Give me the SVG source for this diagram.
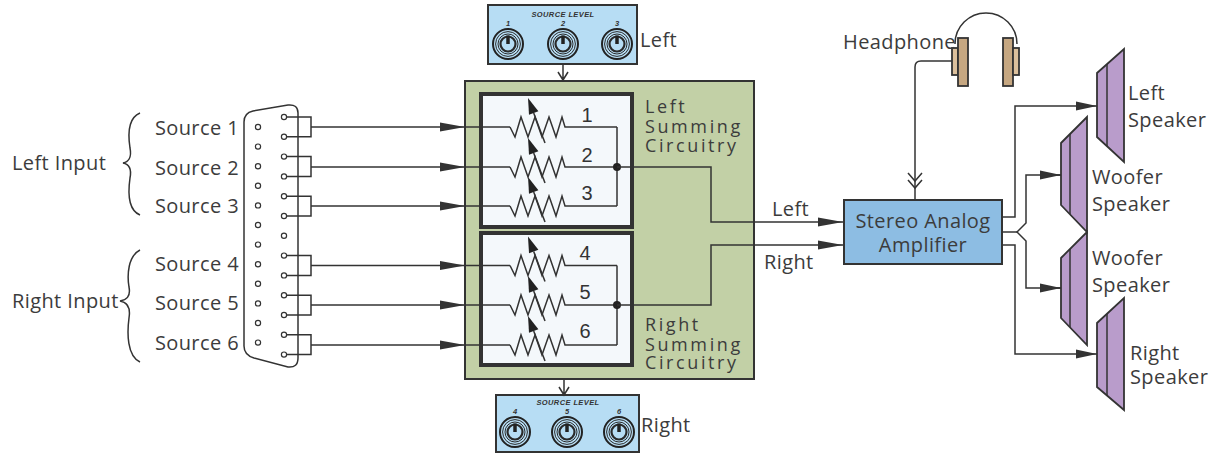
<svg xmlns="http://www.w3.org/2000/svg" width="1217" height="454" viewBox="0 0 1217 454">
<style>
.t{font-family:"Open Sans","Noto Sans",sans-serif;fill:#3c3c3c;font-size:20px;letter-spacing:0.4px}
.sm{font-size:18px;letter-spacing:2.6px}
.num{font-family:"Liberation Sans",Arial,sans-serif;fill:#333;font-size:20px;text-anchor:middle}
.sl{font-family:"Liberation Sans",Arial,sans-serif;font-style:italic;font-weight:bold;fill:#333;font-size:7.5px;text-anchor:middle}
.ln{fill:none;stroke:#333;stroke-width:1.5}
.pin{fill:#fff;stroke:#333;stroke-width:1.2}
.spk{fill:#b99ccb;stroke:#333;stroke-width:1.8;stroke-linejoin:miter}
.cup{fill:#c6a781;stroke:#333;stroke-width:1.8}
.pad{fill:#dcc09c;stroke:#333;stroke-width:1.8}
.panel{fill:#b7ddf4;stroke:#333;stroke-width:2}
.ring{fill:none;stroke:#2a2a2a}
</style>
<defs>
<marker id="ah" markerUnits="userSpaceOnUse" markerWidth="26" markerHeight="12" refX="25" refY="5" orient="auto" viewBox="0 0 26 10">
<path d="M0,0.5 L25,5 L0,9.5 Z" fill="#333"/>
</marker>
<marker id="ahs" markerUnits="userSpaceOnUse" markerWidth="22" markerHeight="12" refX="21" refY="5" orient="auto" viewBox="0 0 22 10">
<path d="M0,0.5 L21,5 L0,9.5 Z" fill="#333"/>
</marker>
<g id="res">
<path class="ln" d="M0,0 L5,10 L11,-10 L18,10 L25,-10 L32,10 L39,-10 L46,10 L52,-10 L55,0 L107,0"/>
<path class="ln" d="M35,16 L23.7,-14"/>
<path d="M18,-29 L28.4,-15.8 L19,-12.2 Z" fill="#222"/>
</g>
<g id="knob">
<circle r="15" fill="#b7ddf4" stroke="#222" stroke-width="2"/>
<circle r="12.4" class="ring" stroke-width="1"/>
<circle r="10" class="ring" stroke-width="1"/>
<circle r="7.5" class="ring" stroke-width="2.2"/>
<line x1="0" y1="0" x2="0" y2="-8.5" stroke="#222" stroke-width="3.5"/>
</g>
</defs>
<rect width="1217" height="454" fill="#fff"/>

<g id="input-labels">
<text class="t" x="12" y="170">Left Input</text>
<text class="t" x="12" y="308">Right Input</text>
<path class="ln" d="M140,113 C128,118 128,135 130,148 C132,158 128,162 123,163 C128,164 132,168 130,178 C128,192 128,210 140,215"/>
<path class="ln" d="M140,250 C128,256 127,275 129,287 C131,297 126,300 120,301 C126,302 131,306 129,318 C127,333 127,356 140,362"/>
<text class="t" x="239" y="135" text-anchor="end">Source 1</text>
<text class="t" x="239" y="175" text-anchor="end">Source 2</text>
<text class="t" x="239" y="213" text-anchor="end">Source 3</text>
<text class="t" x="239" y="271" text-anchor="end">Source 4</text>
<text class="t" x="239" y="310" text-anchor="end">Source 5</text>
<text class="t" x="239" y="350" text-anchor="end">Source 6</text>
</g>

<g id="connector">
<path class="ln" d="M244,122 Q244,113 253,111 L288,105 Q298,104 298,113 L298,358 Q298,368 288,367 L254,358 Q244,355 244,346 Z"/>
<g>
<circle class="pin" cx="258" cy="127" r="2.6"/><circle class="pin" cx="258" cy="146.6" r="2.6"/>
<circle class="pin" cx="258" cy="166.2" r="2.6"/><circle class="pin" cx="258" cy="185.8" r="2.6"/>
<circle class="pin" cx="258" cy="205.4" r="2.6"/><circle class="pin" cx="258" cy="225" r="2.6"/>
<circle class="pin" cx="258" cy="244.6" r="2.6"/><circle class="pin" cx="258" cy="264.2" r="2.6"/>
<circle class="pin" cx="258" cy="283.8" r="2.6"/><circle class="pin" cx="258" cy="303.4" r="2.6"/>
<circle class="pin" cx="258" cy="323" r="2.6"/><circle class="pin" cx="258" cy="342.6" r="2.6"/>
<circle class="pin" cx="284" cy="117" r="2.6"/><circle class="pin" cx="284" cy="136.8" r="2.6"/>
<circle class="pin" cx="284" cy="156.6" r="2.6"/><circle class="pin" cx="284" cy="176.4" r="2.6"/>
<circle class="pin" cx="284" cy="196.2" r="2.6"/><circle class="pin" cx="284" cy="216" r="2.6"/>
<circle class="pin" cx="284" cy="235.8" r="2.6"/><circle class="pin" cx="284" cy="255.6" r="2.6"/>
<circle class="pin" cx="284" cy="275.4" r="2.6"/><circle class="pin" cx="284" cy="295.2" r="2.6"/>
<circle class="pin" cx="284" cy="315" r="2.6"/><circle class="pin" cx="284" cy="334.8" r="2.6"/>
<circle class="pin" cx="284" cy="354.6" r="2.6"/>
</g>
</g>

<g id="summing-block">
<rect x="465" y="81" width="289" height="298" fill="#c2d0a6" stroke="#333" stroke-width="2"/>
</g>

<g id="left-summing">
<rect x="481" y="94" width="151" height="133" fill="#f4f8fb" stroke="#333" stroke-width="4"/>
<use href="#res" x="510" y="127"/>
<use href="#res" x="510" y="167"/>
<use href="#res" x="510" y="206"/>
<path class="ln" d="M617,127 V206"/>
<circle cx="617" cy="167" r="4" fill="#222"/>
<text class="num" x="587" y="122">1</text>
<text class="num" x="587" y="162">2</text>
<text class="num" x="587" y="200">3</text>
<text class="t sm" x="645" y="113">Left</text>
<text class="t sm" x="645" y="133">Summing</text>
<text class="t sm" x="645" y="152">Circuitry</text>
</g>

<g id="right-summing">
<rect x="481" y="233" width="151" height="132" fill="#f4f8fb" stroke="#333" stroke-width="4"/>
<use href="#res" x="510" y="265.5"/>
<use href="#res" x="510" y="305"/>
<use href="#res" x="510" y="345"/>
<path class="ln" d="M617,265.5 V345"/>
<circle cx="617" cy="305" r="4" fill="#222"/>
<text class="num" x="585" y="260">4</text>
<text class="num" x="585" y="299">5</text>
<text class="num" x="585" y="338">6</text>
<text class="t sm" x="645" y="331">Right</text>
<text class="t sm" x="645" y="351">Summing</text>
<text class="t sm" x="645" y="369">Circuitry</text>
</g>

<g id="left-level-panel">
<rect class="panel" x="488" y="5" width="149" height="59"/>
<text class="sl" x="563" y="17" letter-spacing="0.4">SOURCE  LEVEL</text>
<text class="sl" x="508" y="26">1</text>
<text class="sl" x="563" y="26">2</text>
<text class="sl" x="617" y="26">3</text>
<use href="#knob" x="508" y="44"/>
<use href="#knob" x="563" y="44"/>
<use href="#knob" x="617" y="44"/>
<text class="t" x="640" y="47">Left</text>
</g>

<g id="right-level-panel">
<rect class="panel" x="496" y="395" width="143" height="57"/>
<text class="sl" x="568" y="405" letter-spacing="0.4">SOURCE  LEVEL</text>
<text class="sl" x="515" y="414">4</text>
<text class="sl" x="567" y="414">5</text>
<text class="sl" x="619" y="414">6</text>
<use href="#knob" x="515" y="432"/>
<use href="#knob" x="567" y="432"/>
<use href="#knob" x="619" y="432"/>
<text class="t" x="641" y="432">Right</text>
</g>

<g id="amplifier">
<rect x="844" y="200" width="158" height="64" fill="#8dbde3" stroke="#333" stroke-width="2"/>
<text class="t" x="923" y="228" font-size="22" letter-spacing="1.3" text-anchor="middle" fill="#333">Stereo Analog</text>
<text class="t" x="923" y="252" font-size="22" letter-spacing="1.3" text-anchor="middle" fill="#333">Amplifier</text>
</g>

<g id="headphone">
<path class="ln" d="M955,44 A31,31 0 0 1 1017,44"/>
<rect class="pad" x="952" y="48" width="6" height="27"/>
<rect class="cup" x="958" y="38" width="10" height="48"/>
<rect class="cup" x="1003" y="38" width="10" height="48"/>
<rect class="pad" x="1013" y="48" width="6" height="27"/>
<text class="t" x="843" y="49" font-size="21">Headphone</text>
</g>

<g id="left-speaker">
<polygon class="spk" points="1097,73 1124,49 1124,162 1097,137"/>
<line class="ln" x1="1107" y1="64" x2="1107" y2="146" stroke-width="1.8"/>
<text class="t" x="1128" y="100">Left</text>
<text class="t" x="1128" y="127">Speaker</text>
</g>
<g id="woofer-speaker-1">
<polygon class="spk" points="1061,143 1087,117 1087,232 1061,205"/>
<line class="ln" x1="1070" y1="134" x2="1070" y2="214" stroke-width="1.8"/>
<text class="t" x="1092" y="184">Woofer</text>
<text class="t" x="1092" y="211">Speaker</text>
</g>
<g id="woofer-speaker-2">
<polygon class="spk" points="1061,258 1087,232 1087,345 1061,318"/>
<line class="ln" x1="1070" y1="249" x2="1070" y2="327" stroke-width="1.8"/>
<text class="t" x="1092" y="265">Woofer</text>
<text class="t" x="1092" y="292">Speaker</text>
</g>
<g id="right-speaker">
<polygon class="spk" points="1097,323 1124,298 1124,410 1097,387"/>
<line class="ln" x1="1107" y1="314" x2="1107" y2="396" stroke-width="1.8"/>
<text class="t" x="1130" y="360">Right</text>
<text class="t" x="1130" y="384">Speaker</text>
</g>

<g id="connectors">
<path class="ln" d="M286.6,117 H311 V136.8 H286.6"/>
<path class="ln" d="M286.6,156.6 H311 V176.4 H286.6"/>
<path class="ln" d="M286.6,196.2 H311 V216 H286.6"/>
<path class="ln" d="M286.6,255.6 H311 V275.4 H286.6"/>
<path class="ln" d="M286.6,295.2 H311 V315 H286.6"/>
<path class="ln" d="M286.6,334.8 H311 V354.6 H286.6"/>
<path class="ln" d="M311,127 H465" marker-end="url(#ah)"/><path class="ln" d="M465,127 H510"/>
<path class="ln" d="M311,167 H465" marker-end="url(#ah)"/><path class="ln" d="M465,167 H510"/>
<path class="ln" d="M311,206 H465" marker-end="url(#ah)"/><path class="ln" d="M465,206 H510"/>
<path class="ln" d="M311,265.5 H465" marker-end="url(#ah)"/><path class="ln" d="M465,265.5 H510"/>
<path class="ln" d="M311,305 H465" marker-end="url(#ah)"/><path class="ln" d="M465,305 H510"/>
<path class="ln" d="M311,345 H465" marker-end="url(#ah)"/><path class="ln" d="M465,345 H510"/>
<path class="ln" d="M563,64 V80 M558,72 L563,80 L568,72"/>
<path class="ln" d="M564,379 V395 M559,387 L564,395 L569,387"/>
<path class="ln" d="M617,167 H711 V222 H843" marker-end="url(#ah)"/>
<path class="ln" d="M617,305 H711 V245 H843" marker-end="url(#ah)"/>
<text class="t" x="772" y="216">Left</text>
<text class="t" x="764" y="269">Right</text>
<path class="ln" d="M952,61 H921 Q915,61 915,67 V200"/>
<path class="ln" d="M908,173 L915,181 L922,173 M908,180 L915,188 L922,180"/>
<path class="ln" d="M1002,217 H1015 V106 H1097" marker-end="url(#ahs)"/>
<path class="ln" d="M1002,232 H1017"/>
<path class="ln" d="M1061,175 H1026 V223 L1017,232 L1026,241 V288 H1061"/>
<path class="ln" d="M1040,175 H1061" marker-end="url(#ahs)"/>
<path class="ln" d="M1040,288 H1061" marker-end="url(#ahs)"/>
<path class="ln" d="M1002,245 H1015 V354 H1097" marker-end="url(#ahs)"/>
</g>
</svg>
